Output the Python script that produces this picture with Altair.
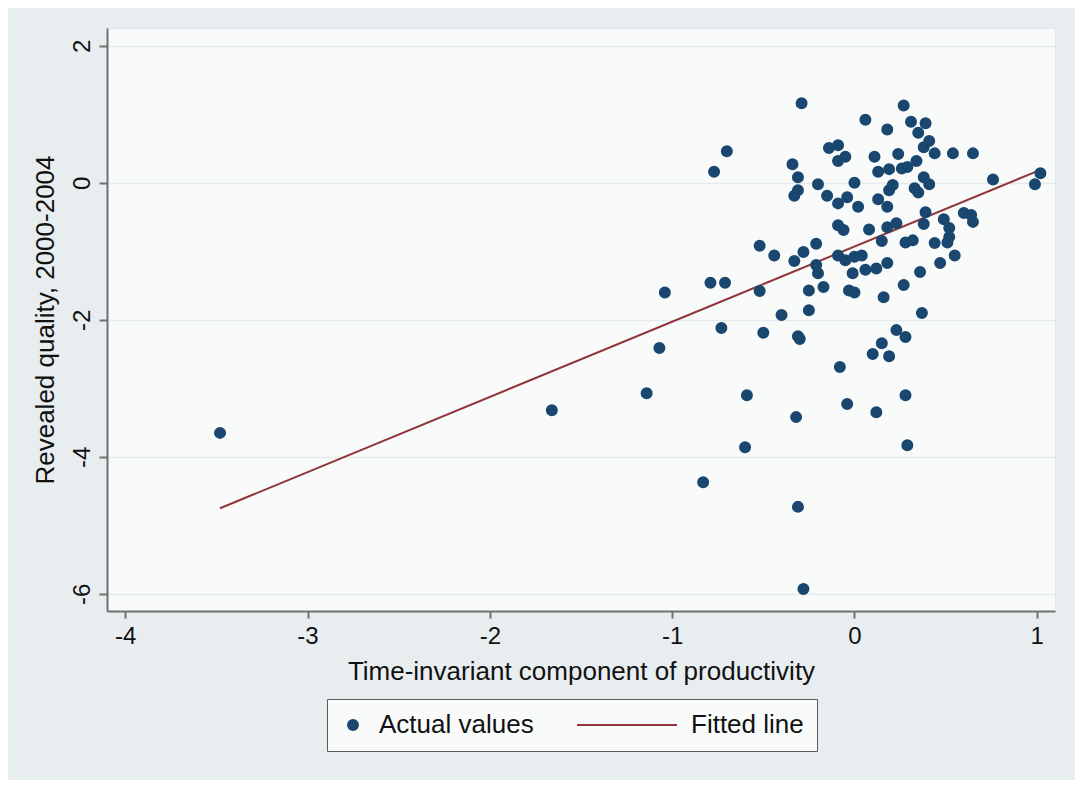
import altair as alt
import pandas as pd

# Actual values (time-invariant productivity component, revealed quality)
x_vals = [-3.48, -1.66, -1.14, -1.07, -1.04, -0.83, -0.79, -0.71, -0.73, -0.77,
          -0.70, -0.60, -0.59, -0.52, -0.50, -0.52, -0.44, -0.40, -0.33, -0.34,
          -0.31, -0.31, -0.33, -0.29, -0.30, -0.31, -0.32, -0.31, -0.28, -0.28,
          -0.21, -0.21, -0.20, -0.25, -0.25, -0.17, -0.20, -0.15, -0.09, -0.04,
          0.00, 0.02, -0.14, -0.09, -0.09, -0.05, -0.09, -0.06, -0.09, -0.05,
          0.00, 0.04, -0.01, 0.06, 0.12, 0.18, -0.03, 0.00, -0.08, -0.04,
          0.06, 0.18, 0.11, 0.24, 0.13, 0.19, 0.21, 0.19, 0.13, 0.18,
          0.08, 0.18, 0.23, 0.15, 0.28, 0.32, 0.16, 0.27, 0.12, 0.10,
          0.15, 0.19, 0.23, 0.28, 0.28, 0.29, 0.27, 0.31, 0.39, 0.35,
          0.41, 0.38, 0.44, 0.54, 0.65, 0.34, 0.29, 0.26, 0.38, 0.41,
          0.33, 0.35, 0.39, 0.38, 0.49, 0.52, 0.52, 0.51, 0.44, 0.55,
          0.47, 0.36, 0.37, 0.60, 0.64, 0.65, 0.76, 1.02, 0.99]
y_vals = [-3.65, -3.32, -3.07, -2.41, -1.60, -4.37, -1.46, -1.46, -2.12, 0.16,
          0.46, -3.86, -3.10, -1.58, -2.19, -0.92, -1.06, -1.93, -1.14, 0.27,
          0.08, -0.11, -0.19, 1.16, -2.28, -2.24, -3.42, -4.73, -5.93, -1.01,
          -0.89, -1.20, -1.32, -1.57, -1.86, -1.52, -0.02, -0.19, -0.30, -0.21,
          0.00, -0.35, 0.51, 0.55, 0.32, 0.38, -0.62, -0.69, -1.06, -1.13,
          -1.08, -1.06, -1.32, -1.27, -1.25, -1.17, -1.57, -1.60, -2.69, -3.23,
          0.92, 0.78, 0.38, 0.42, 0.16, 0.20, -0.03, -0.11, -0.24, -0.35,
          -0.68, -0.65, -0.59, -0.85, -0.87, -0.84, -1.67, -1.49, -3.35, -2.50,
          -2.34, -2.53, -2.15, -2.25, -3.10, -3.83, 1.13, 0.89, 0.87, 0.73,
          0.61, 0.52, 0.43, 0.43, 0.43, 0.32, 0.23, 0.21, 0.08, -0.02,
          -0.08, -0.14, -0.43, -0.60, -0.53, -0.66, -0.79, -0.87, -0.88, -1.06,
          -1.17, -1.30, -1.90, -0.44, -0.47, -0.57, 0.05, 0.14, -0.02]

# Fitted line end points
fit_x = [-3.48, 1.02]
fit_y = [-4.75, 0.19]

series_names = ["Actual values", "Fitted line"]
series_colors = ["#1a476f", "#90353b"]
series_shapes = ["circle", "stroke"]
series_sizes = [100, 10000]
x_ticks = [-4, -3, -2, -1, 0, 1]
y_ticks = [-6, -4, -2, 0, 2]

pts = pd.DataFrame({"x": x_vals, "y": y_vals, "series": series_names[0]})
fit = pd.DataFrame({"x": fit_x, "y": fit_y})

FONT = "Liberation Sans"

xscale = alt.Scale(domain=[-4.10, 1.10], nice=False, zero=False)
yscale = alt.Scale(domain=[-6.25, 2.26], nice=False, zero=False)

x_axis = alt.Axis(values=x_ticks, grid=False, title="Time-invariant component of productivity",
                  labelExpr="toString(datum.value)",
                  tickSize=7, labelPadding=6, titlePadding=10, labelFlush=False)
y_axis = alt.Axis(values=y_ticks, grid=True, title="Revealed quality, 2000-2004",
                  labelExpr="toString(datum.value)",
                  tickSize=8, labelAngle=270, labelAlign="center", labelBaseline="alphabetic",
                  labelPadding=10, titlePadding=12, labelFlush=False)


def make_legend():
    return alt.Legend(
        title=None, orient="none", legendX=220, legendY=671, direction="horizontal",
        labelFont=FONT, labelFontSize=26, labelColor="#111111",
        padding=13, columnPadding=42, labelOffset=13, clipHeight=26,
        fillColor="#f8fbfa", strokeColor="#5a5a5a",
        symbolStrokeWidth=2, symbolOpacity=1,
    )


points = alt.Chart(pts).mark_point(filled=True, opacity=1, strokeWidth=2).encode(
    x=alt.X("x:Q", scale=xscale, axis=x_axis),
    y=alt.Y("y:Q", scale=yscale, axis=y_axis),
    color=alt.Color("series:N", scale=alt.Scale(domain=series_names, range=series_colors),
                    legend=make_legend()),
    stroke=alt.Stroke("series:N", scale=alt.Scale(domain=series_names, range=series_colors),
                      legend=make_legend()),
    shape=alt.Shape("series:N", scale=alt.Scale(domain=series_names, range=series_shapes),
                    legend=make_legend()),
    size=alt.Size("series:N", scale=alt.Scale(domain=series_names, range=series_sizes),
                  legend=make_legend()),
)

line = alt.Chart(fit).mark_line(strokeWidth=2, color=series_colors[1]).encode(
    x=alt.X("x:Q", scale=xscale),
    y=alt.Y("y:Q", scale=yscale),
)

chart = alt.layer(line, points).properties(
    width=948, height=583,
    autosize=alt.AutoSizeParams(type="none"),
    padding={"left": 99, "top": 20, "right": 20, "bottom": 169},
    background="#e8edf0",
).configure_view(
    fill="#f8fbfa", stroke="#e2e8e9", strokeWidth=1
).configure_axis(
    labelFont=FONT, titleFont=FONT, labelFontSize=24, titleFontSize=26,
    labelColor="#111111", titleColor="#111111", titleFontWeight="normal",
    domainColor="#707070", domainWidth=2, tickColor="#707070", tickWidth=2,
    gridColor="#e5ebec", gridWidth=1.5,
)

chart.save("out.html", embed_options={"renderer": "svg", "actions": False})
